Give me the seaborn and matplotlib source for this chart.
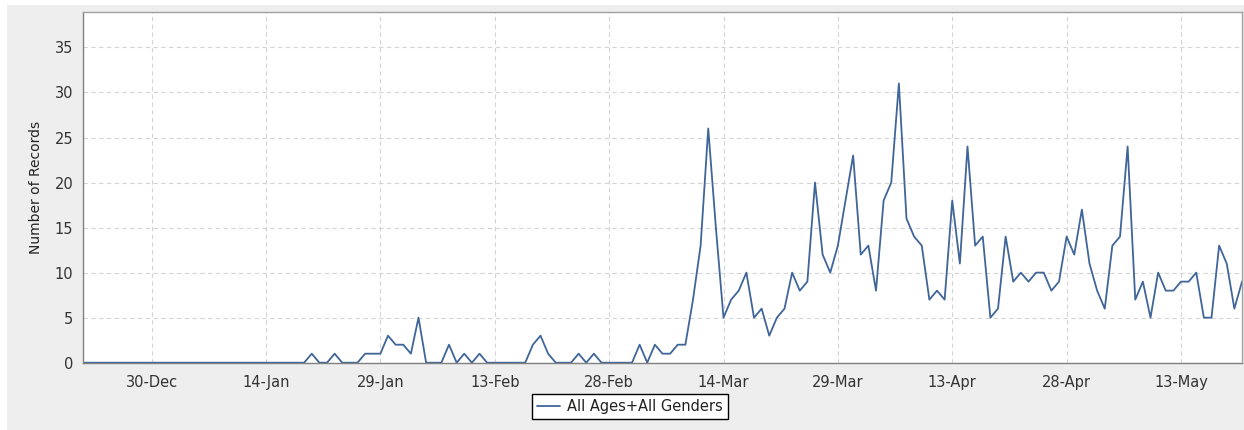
import pandas as pd
import matplotlib.pyplot as plt
import matplotlib.dates as mdates
from matplotlib.patches import Rectangle
import seaborn as sns

# === Daily record counts (2019-12-21 .. 2020-05-21) ===
start_date = "2019-12-21"
counts_dec = [0] * 11                                   # 21-31 Dec
counts_jan = [0] * 19 + [1, 0, 0, 1, 0, 0, 0, 1, 1, 1, 3, 2]   # 1-31 Jan
counts_feb = [2, 1, 5, 0, 0, 0, 2, 0, 1, 0, 1, 0, 0, 0, 0, 0, 0,
              2, 3, 1, 0, 0, 0, 1, 0, 1, 0, 0, 0]        # 1-29 Feb
counts_mar = [0, 0, 2, 0, 2, 1, 1, 2, 2, 7, 13, 26, 15, 5, 7, 8, 10, 5,
              6, 3, 5, 6, 10, 8, 9, 20, 12, 10, 13, 18, 23]   # 1-31 Mar
counts_apr = [12, 13, 8, 18, 20, 31, 16, 14, 13, 7, 8, 7, 18, 11, 24,
              13, 14, 5, 6, 14, 9, 10, 9, 10, 10, 8, 9, 14, 12, 17]  # 1-30 Apr
counts_may = [11, 8, 6, 13, 14, 24, 7, 9, 5, 10, 8, 8, 9, 9, 10, 5, 5,
              13, 11, 6, 9]                              # 1-21 May

series_label = "All Ages+All Genders"
y_label = "Number of Records"
y_ticks = [0, 5, 10, 15, 20, 25, 30, 35]

counts = counts_dec + counts_jan + counts_feb + counts_mar + counts_apr + counts_may
df = pd.DataFrame({
    "date": pd.date_range(start_date, periods=len(counts), freq="D"),
    "records": counts,
})

# === Plot ===
sns.set_style("white")
plt.rcParams["font.family"] = ["DejaVu Sans"]

W, H = 1244, 430
fig = plt.figure(figsize=(W / 100, H / 100), dpi=100, facecolor="white")
fig.patches.append(Rectangle((7 / W, 0), 1, 1 - 5 / H, transform=fig.transFigure,
                             facecolor="#EEEEEE", edgecolor="none", zorder=-10))

ax = fig.add_axes([83 / W, 1 - 362.7 / H, (1242 - 83) / W, (362.7 - 12.3) / H])
ax.set_facecolor("white")

sns.lineplot(data=df, x="date", y="records", ax=ax, color="#3F6599",
             linewidth=1.3, label=series_label, legend=False)

ax.set_xlim(df["date"].iloc[0], df["date"].iloc[-1])
ax.set_ylim(0, 38.9)
ax.set_yticks(y_ticks)

tick_dates = pd.date_range("2019-12-30", "2020-05-21", freq="15D")
ax.set_xticks(tick_dates)
ax.xaxis.set_major_formatter(mdates.DateFormatter("%d-%b"))

ax.grid(True, color="#D4D4D4", linestyle=(0, (4, 3)), linewidth=0.8)
for side in ax.spines:
    ax.spines[side].set_color("#A0A0A0")
    ax.spines[side].set_linewidth(1.0)
ax.spines["bottom"].set_color("#808080")
ax.spines["left"].set_color("#808080")

ax.tick_params(axis="both", which="major", length=3, width=0.8, color="#808080",
               labelsize=10.5, labelcolor="#333333", direction="out", pad=4)
ax.tick_params(axis="x", pad=6)
ax.set_xlabel("")
ax.set_ylabel(y_label, fontsize=10, color="#222222", labelpad=8)

handles, labels = ax.get_legend_handles_labels()
leg = fig.legend(handles, labels, loc="lower center", bbox_to_anchor=(630 / W, 4 / H),
                 frameon=True, fancybox=False, edgecolor="black", framealpha=1,
                 fontsize=10.5, handlelength=1.6, borderpad=0.35, handletextpad=0.5)
leg.get_frame().set_linewidth(1.0)
for t in leg.get_texts():
    t.set_color("#222222")

fig.savefig("out.png", dpi=100, facecolor=fig.get_facecolor())
